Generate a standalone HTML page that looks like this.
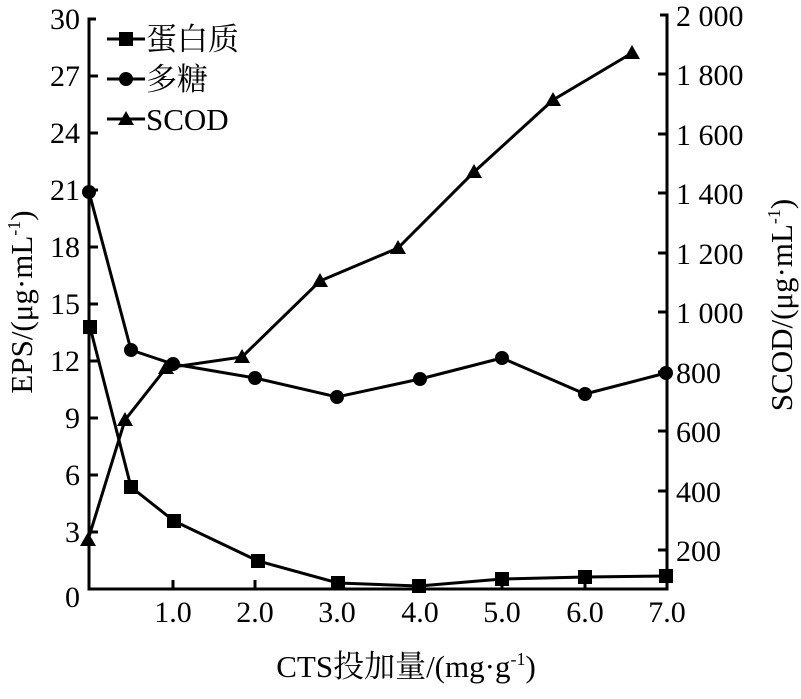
<!DOCTYPE html>
<html><head><meta charset="utf-8"><style>
html,body{margin:0;padding:0;background:#fff;}
svg text{font-family:"Liberation Serif","Noto Serif CJK SC",serif;fill:#000;}
</style></head><body>
<svg width="801" height="694" viewBox="0 0 801 694" xmlns="http://www.w3.org/2000/svg">
<g stroke="#000" stroke-width="3" fill="none">
<polyline points="96,19 89,19 89,589 667,589 667,15 660,15"/>
<path d="M89,76h9M89,133h9M89,190h9M89,247h9M89,304h9M89,361h9M89,418h9M89,475h9M89,532h9"/>
<path d="M667,74h-9M667,134h-9M667,193h-9M667,253h-9M667,312h-9M667,372h-9M667,431h-9M667,491h-9M667,550h-9"/>
<path d="M173,589v-9M255,589v-9M337,589v-9M420,589v-9M502,589v-9M585,589v-9"/>
<polyline points="90,327 131,487 174,521 258,561 338,583 419,586 502,579 585,577 666,576"/>
<polyline points="89,192 131,350 173,364 255,378 337,397 420,379 502,358 585,394 666,373"/>
<polyline points="88,540 125,420 166,368 242,357 320,281 398,248 474,172 553,100 632,53"/>
<path d="M107,39h38M107,79h38M107,119h38"/>
</g>
<g fill="#000">
<g transform="translate(-7,-7)">
<rect x="90" y="327" width="14" height="14"/><rect x="131" y="487" width="14" height="14"/><rect x="174" y="521" width="14" height="14"/><rect x="258" y="561" width="14" height="14"/><rect x="338" y="583" width="14" height="14"/><rect x="419" y="586" width="14" height="14"/><rect x="502" y="579" width="14" height="14"/><rect x="585" y="577" width="14" height="14"/><rect x="666" y="576" width="14" height="14"/><rect x="126" y="39" width="14" height="14"/>
</g>
<circle cx="89" cy="192" r="7"/><circle cx="131" cy="350" r="7"/><circle cx="173" cy="364" r="7"/><circle cx="255" cy="378" r="7"/><circle cx="337" cy="397" r="7"/><circle cx="420" cy="379" r="7"/><circle cx="502" cy="358" r="7"/><circle cx="585" cy="394" r="7"/><circle cx="666" cy="373" r="7"/><circle cx="126" cy="79" r="7"/>
<path d="M88,532l-8,14h16z"/><path d="M125,412l-8,14h16z"/><path d="M166,360l-8,14h16z"/><path d="M242,349l-8,14h16z"/><path d="M320,273l-8,14h16z"/><path d="M398,240l-8,14h16z"/><path d="M474,164l-8,14h16z"/><path d="M553,92l-8,14h16z"/><path d="M632,45l-8,14h16z"/><path d="M126,111l-8,14h16z"/>
</g>
<g font-size="30" text-anchor="end">
<text x="80" y="29">30</text><text x="80" y="86">27</text><text x="80" y="143">24</text><text x="80" y="200">21</text><text x="80" y="257">18</text><text x="80" y="314">15</text><text x="80" y="371">12</text><text x="80" y="428">9</text><text x="80" y="485">6</text><text x="80" y="542">3</text><text x="80" y="607">0</text>
</g>
<g font-size="30" text-anchor="start">
<text x="676" y="26">2 000</text><text x="676" y="85">1 800</text><text x="676" y="145">1 600</text><text x="676" y="204">1 400</text><text x="676" y="264">1 200</text><text x="676" y="323">1 000</text><text x="676" y="383">800</text><text x="676" y="442">600</text><text x="676" y="502">400</text><text x="676" y="561">200</text>
</g>
<g font-size="30" text-anchor="middle">
<text x="173" y="622">1.0</text><text x="255" y="622">2.0</text><text x="337" y="622">3.0</text><text x="420" y="622">4.0</text><text x="502" y="622">5.0</text><text x="585" y="622">6.0</text><text x="667" y="622">7.0</text>
</g>
<g font-size="31" text-anchor="middle">
<text x="406" y="677">CTS投加量/(mg·g<tspan font-size="18" dy="-12">-1</tspan><tspan dy="12">)</tspan></text>
<text transform="translate(32,302) rotate(-90)">EPS/(μg·mL<tspan font-size="18" dy="-12">-1</tspan><tspan dy="12">)</tspan></text>
<text transform="translate(792,305) rotate(-90)">SCOD/(μg·mL<tspan font-size="18" dy="-12">-1</tspan><tspan dy="12">)</tspan></text>
</g>
<g font-size="31">
<text x="146" y="50">蛋白质</text><text x="146" y="90">多糖</text><text x="146" y="130">SCOD</text>
</g>
</svg>
</body></html>
